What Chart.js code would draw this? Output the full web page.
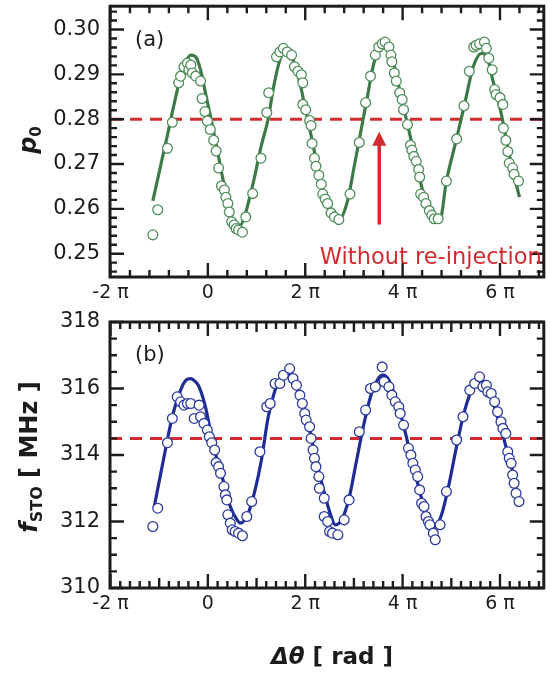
<!DOCTYPE html>
<html>
<head>
<meta charset="utf-8">
<script src="https://cdn.jsdelivr.net/npm/chart.js@4.4.0/dist/chart.umd.min.js"></script>
<style>
  html, body { margin: 0; padding: 0; background: #fff; }
  #wrap { position: relative; width: 550px; height: 678px; overflow: hidden; }
  canvas { position: absolute; left: 0; }
  #p0Chart { top: 0; }
  #fChart { top: 305px; }
</style>
</head>
<body>
<div id="wrap">
  <canvas id="p0Chart" width="550" height="305"></canvas>
  <canvas id="fChart" width="550" height="373"></canvas>
</div>
<script>
// phase axis, in units of pi
const xMin = -2.01;
const xMax = 6.9;
const xTickValues = [-2, 0, 2, 4, 6];
const xTickLabels = ['-2 π', '0', '2 π', '4 π', '6 π'];

const p0TickValues = [0.25, 0.26, 0.27, 0.28, 0.29, 0.30];
const p0TickLabels = ['0.25', '0.26', '0.27', '0.28', '0.29', '0.30'];
const fTickValues = [310, 312, 314, 316, 318];
const fTickLabels = ['310', '312', '314', '316', '318'];

// (a) measured p0
const p0PhaseX = [
  -1.13, -1.03, -0.83, -0.73, -0.60, -0.56, -0.49, -0.42, -0.39, -0.35,
  -0.32, -0.25, -0.15, -0.12, -0.06, -0.01, 0.05, 0.12, 0.17, 0.22,
  0.28, 0.34, 0.37, 0.41, 0.44, 0.49, 0.54, 0.58, 0.63, 0.71,
  0.78, 0.92, 1.09, 1.21, 1.25, 1.41, 1.48, 1.55, 1.63, 1.72,
  1.78, 1.85, 1.92, 1.95, 1.95, 2.01, 2.09, 2.12, 2.14, 2.19,
  2.22, 2.28, 2.33, 2.36, 2.41, 2.46, 2.53, 2.60, 2.69, 2.92,
  3.11, 3.24, 3.34, 3.44, 3.51, 3.58, 3.64, 3.72, 3.76, 3.78,
  3.83, 3.87, 3.94, 3.99, 4.02, 4.10, 4.16, 4.19, 4.23, 4.28,
  4.33, 4.35, 4.37, 4.43, 4.48, 4.55, 4.60, 4.65, 4.73, 4.90,
  5.11, 5.26, 5.37, 5.46, 5.51, 5.58, 5.68, 5.72, 5.77, 5.84,
  5.89, 5.92, 6.00, 6.06, 6.07, 6.12, 6.16, 6.19, 6.26, 6.29,
  6.38
];
const p0Measured = [
  0.2542, 0.2598, 0.2735, 0.2793, 0.2881, 0.2896, 0.2917, 0.2925, 0.2910, 0.2921,
  0.2903, 0.2896, 0.2885, 0.2846, 0.2817, 0.2796, 0.2777, 0.2753, 0.2729, 0.2691,
  0.2651, 0.2642, 0.2626, 0.2612, 0.2593, 0.2571, 0.2564, 0.2556, 0.2553, 0.2548,
  0.2582, 0.2634, 0.2713, 0.2815, 0.2859, 0.2939, 0.2950, 0.2958, 0.2950, 0.2943,
  0.2917, 0.2907, 0.2899, 0.2881, 0.2833, 0.2821, 0.2797, 0.2786, 0.2746, 0.2713,
  0.2695, 0.2675, 0.2655, 0.2633, 0.2622, 0.2612, 0.2591, 0.2582, 0.2576, 0.2633,
  0.2748, 0.2837, 0.2896, 0.2943, 0.2961, 0.2968, 0.2972, 0.2961, 0.2943, 0.2928,
  0.2903, 0.2885, 0.2859, 0.2844, 0.2821, 0.2788, 0.2742, 0.2731, 0.2717, 0.2706,
  0.2688, 0.2671, 0.2633, 0.2626, 0.2612, 0.2596, 0.2586, 0.2578, 0.2578, 0.2662,
  0.2756, 0.2830, 0.2907, 0.2961, 0.2965, 0.2968, 0.2972, 0.2958, 0.2936, 0.2910,
  0.2866, 0.2855, 0.2848, 0.2833, 0.2780, 0.2753, 0.2728, 0.2702, 0.2691, 0.2677,
  0.2662
];

// (a) fitted curve
const p0FitX = [
  -1.13, -0.86, -0.59, -0.45, -0.35, -0.25, -0.15, -0.05, 0.05, 0.16,
  0.29, 0.43, 0.56, 0.67, 0.77, 0.94, 1.10, 1.24, 1.34, 1.48,
  1.59, 1.75, 1.89, 1.99, 2.12, 2.26, 2.43, 2.57, 2.69, 2.87,
  3.00, 3.14, 3.28, 3.41, 3.55, 3.65, 3.78, 3.92, 4.09, 4.26,
  4.43, 4.60, 4.77, 4.90, 5.11, 5.28, 5.45, 5.62, 5.72, 5.85,
  6.02, 6.19, 6.40
];
const p0Fit = [
  0.2618, 0.2750, 0.2881, 0.2928, 0.2943, 0.2939, 0.2910, 0.2859, 0.2808, 0.2750,
  0.2677, 0.2604, 0.2567, 0.2564, 0.2589, 0.2662, 0.2742, 0.2801, 0.2866, 0.2932,
  0.2949, 0.2932, 0.2881, 0.2830, 0.2764, 0.2691, 0.2618, 0.2582, 0.2575, 0.2618,
  0.2691, 0.2772, 0.2852, 0.2925, 0.2958, 0.2961, 0.2939, 0.2874, 0.2793, 0.2713,
  0.2633, 0.2586, 0.2578, 0.2662, 0.2757, 0.2837, 0.2917, 0.2947, 0.2943, 0.2888,
  0.2815, 0.2721, 0.2626
];
const p0Reference = 0.28;

// (b) measured f_STO in MHz
const fPhaseX = [
  -1.13, -1.03, -0.83, -0.73, -0.63, -0.56, -0.49, -0.42, -0.35, -0.28,
  -0.18, -0.15, -0.08, -0.01, 0.03, 0.08, 0.14, 0.17, 0.22, 0.26,
  0.33, 0.36, 0.39, 0.41, 0.46, 0.50, 0.56, 0.63, 0.71, 0.80,
  0.90, 1.07, 1.21, 1.28, 1.38, 1.48, 1.55, 1.68, 1.75, 1.82,
  1.89, 1.94, 1.99, 2.02, 2.09, 2.12, 2.16, 2.19, 2.22, 2.28,
  2.29, 2.39, 2.39, 2.46, 2.50, 2.56, 2.67, 2.80, 2.90, 3.11,
  3.24, 3.34, 3.44, 3.58, 3.62, 3.72, 3.78, 3.85, 3.92, 3.95,
  4.02, 4.12, 4.17, 4.21, 4.26, 4.31, 4.35, 4.39, 4.44, 4.48,
  4.53, 4.56, 4.63, 4.67, 4.77, 4.90, 5.11, 5.24, 5.38, 5.48,
  5.58, 5.65, 5.72, 5.75, 5.82, 5.89, 5.95, 6.02, 6.06, 6.12,
  6.16, 6.19, 6.23, 6.26, 6.29, 6.33, 6.39
];
const fMeasured = [
  311.85, 312.40, 314.37, 315.10, 315.75, 315.60, 315.50, 315.55, 315.55, 315.10,
  315.50, 315.15, 314.95, 314.75, 314.55, 314.37, 314.15, 313.77, 313.65, 313.45,
  313.05, 312.80, 312.65, 312.20, 311.95, 311.75, 311.70, 311.65, 311.57, 312.15,
  312.60, 314.10, 315.45, 315.55, 316.15, 316.15, 316.40, 316.60, 316.30, 316.10,
  315.80, 315.55, 315.25, 315.05, 314.85, 314.50, 314.15, 313.90, 313.65, 313.35,
  313.00, 312.70, 312.15, 312.00, 311.70, 311.65, 311.60, 312.05, 312.65, 314.70,
  315.35, 316.00, 316.05, 316.65, 316.20, 316.05, 315.80, 315.60, 315.45, 315.25,
  314.90, 314.20, 314.00, 313.75, 313.55, 313.35, 312.95, 312.55, 312.45, 312.15,
  312.00, 311.90, 311.65, 311.45, 311.90, 312.90, 314.45, 315.15, 315.95, 316.15,
  316.35, 316.05, 316.10, 315.90, 315.85, 315.60, 315.30, 315.00, 314.80, 314.65,
  314.10, 313.90, 313.75, 313.40, 313.15, 312.85, 312.60
];

// (b) fitted curve
const fFitX = [
  -1.10, -0.86, -0.73, -0.56, -0.45, -0.35, -0.25, -0.18, -0.05, 0.05,
  0.19, 0.33, 0.46, 0.60, 0.67, 0.83, 0.97, 1.10, 1.24, 1.37,
  1.50, 1.62, 1.75, 1.90, 2.05, 2.20, 2.35, 2.50, 2.62, 2.75,
  2.90, 3.05, 3.20, 3.35, 3.50, 3.60, 3.72, 3.85, 4.00, 4.15,
  4.30, 4.45, 4.58, 4.66, 4.80, 4.95, 5.10, 5.25, 5.40, 5.50,
  5.60, 5.72, 5.85, 6.00, 6.15, 6.30
];
const fFit = [
  312.45, 314.25, 315.15, 315.95, 316.25, 316.30, 316.20, 316.05, 315.45, 314.75,
  313.85, 313.15, 312.45, 312.05, 311.95, 312.25, 312.95, 313.85, 315.15, 315.90,
  316.35, 316.45, 316.30, 315.75, 315.00, 314.00, 313.10, 312.30, 311.90, 312.05,
  312.70, 313.80, 314.90, 315.80, 316.30, 316.40, 316.25, 315.75, 315.00, 314.10,
  313.20, 312.40, 311.95, 311.85, 312.20, 313.10, 314.20, 315.20, 315.90, 316.15,
  316.25, 316.10, 315.60, 314.90, 314.10, 313.30
];
const fReference = 314.5;

// arrow and note in panel (a), in data units
const arrowX = 3.52;
const arrowFrom = 0.2565;
const arrowTo = 0.2772;
const noteX = 2.30;
const noteY = 0.2478;

const RED = '#d32a2e';
const INK = '#1c1c1c';
const FONT = '"DejaVu Sans", "Liberation Sans", Arial, sans-serif';

function pairs(xs, ys) {
  return xs.map((v, i) => ({ x: v, y: ys[i] }));
}

function labelFrom(values, labels) {
  return (v) => {
    const i = values.findIndex(t => Math.abs(t - v) < 1e-9);
    return i >= 0 ? labels[i] : '';
  };
}

function drawRich(ctx, parts, x, y, rotate) {
  ctx.save();
  ctx.translate(x, y);
  if (rotate) ctx.rotate(-Math.PI / 2);
  ctx.textBaseline = 'alphabetic';
  ctx.textAlign = 'left';
  let total = 0;
  parts.forEach(p => { ctx.font = p.font; total += ctx.measureText(p.text).width; });
  let cx = -total / 2;
  parts.forEach(p => {
    ctx.font = p.font;
    ctx.fillStyle = p.color || INK;
    ctx.fillText(p.text, cx, p.dy || 0);
    cx += ctx.measureText(p.text).width;
  });
  ctx.restore();
}

// inward tick marks on all four sides plus the frame
const frameTicks = {
  id: 'frameTicks',
  afterDatasetsDraw(chart, args, o) {
    const { ctx, chartArea: a } = chart;
    const x = chart.scales.x, y = chart.scales.y;
    const on = (v, step) => step && Math.abs(v / step - Math.round(v / step)) < 1e-6;
    ctx.save();
    ctx.strokeStyle = INK;
    ctx.lineWidth = 2.4;
    ctx.beginPath();
    for (let i = Math.ceil(x.min / o.xMinor - 1e-6); i * o.xMinor <= x.max + 1e-6; i++) {
      const v = i * o.xMinor;
      const len = on(v, o.xMajor) ? o.major : (on(v, o.xMid) ? o.mid : o.minor);
      const px = x.getPixelForValue(v);
      ctx.moveTo(px, a.bottom); ctx.lineTo(px, a.bottom - len);
      ctx.moveTo(px, a.top); ctx.lineTo(px, a.top + len);
    }
    for (let i = Math.ceil(y.min / o.yMinor - 1e-6); i * o.yMinor <= y.max + 1e-6; i++) {
      const v = i * o.yMinor;
      const len = on(v, o.yMajor) ? o.major : o.minor;
      const py = y.getPixelForValue(v);
      ctx.moveTo(a.left, py); ctx.lineTo(a.left + len, py);
      ctx.moveTo(a.right, py); ctx.lineTo(a.right - len, py);
    }
    ctx.stroke();
    ctx.lineWidth = 3;
    ctx.strokeRect(a.left, a.top, a.right - a.left, a.bottom - a.top);
    ctx.restore();
  }
};

// panel letters, axis titles, arrow and note
const marks = {
  id: 'marks',
  afterDraw(chart, args, o) {
    const { ctx, chartArea: a } = chart;
    const x = chart.scales.x, y = chart.scales.y;
    ctx.save();
    ctx.fillStyle = INK;
    ctx.font = '21px ' + FONT;
    ctx.textBaseline = 'middle';
    ctx.textAlign = 'left';
    ctx.fillText(o.panel, a.left + 25, a.top + 34);
    if (o.yTitle) drawRich(ctx, o.yTitle.parts, o.yTitle.x, o.yTitle.y, true);
    if (o.xTitle) drawRich(ctx, o.xTitle.parts, o.xTitle.x, o.xTitle.y, false);
    if (o.arrow) {
      const px = x.getPixelForValue(arrowX);
      const y0 = y.getPixelForValue(arrowFrom);
      const y1 = y.getPixelForValue(arrowTo);
      ctx.strokeStyle = RED;
      ctx.fillStyle = RED;
      ctx.lineWidth = 3.5;
      ctx.beginPath();
      ctx.moveTo(px, y0);
      ctx.lineTo(px, y1 + 10);
      ctx.stroke();
      ctx.beginPath();
      ctx.moveTo(px, y1);
      ctx.lineTo(px - 7, y1 + 14);
      ctx.lineTo(px + 7, y1 + 14);
      ctx.closePath();
      ctx.fill();
      ctx.font = '22.5px ' + FONT;
      ctx.textBaseline = 'alphabetic';
      ctx.fillText('Without re-injection', x.getPixelForValue(noteX), y.getPixelForValue(noteY));
    }
    ctx.restore();
  }
};

function panelOptions(cfg) {
  return {
    responsive: false,
    animation: false,
    devicePixelRatio: 1,
    layout: { padding: { left: 0, right: 2, top: cfg.top, bottom: 0 } },
    plugins: {
      legend: { display: false },
      tooltip: { enabled: false },
      frameTicks: cfg.ticks,
      marks: cfg.marks
    },
    scales: {
      x: {
        type: 'linear',
        min: xMin,
        max: xMax,
        grid: { display: false, drawTicks: false },
        border: { display: false },
        afterBuildTicks: (s) => { s.ticks = xTickValues.map(v => ({ value: v })); },
        afterFit: (s) => { s.height = cfg.xHeight; s.paddingLeft = 0; s.paddingRight = 0; },
        ticks: {
          autoSkip: false,
          maxRotation: 0,
          padding: 5,
          color: INK,
          font: { family: FONT, size: 19 },
          callback: labelFrom(xTickValues, xTickLabels)
        }
      },
      y: {
        type: 'linear',
        min: cfg.yMin,
        max: cfg.yMax,
        grid: { display: false, drawTicks: false },
        border: { display: false },
        afterBuildTicks: (s) => { s.ticks = cfg.yTicks.map(v => ({ value: v })); },
        afterFit: (s) => { s.width = 110; s.paddingTop = 0; s.paddingBottom = 0; },
        ticks: {
          autoSkip: false,
          padding: 10,
          color: INK,
          font: { family: FONT, size: 21 },
          callback: labelFrom(cfg.yTicks, cfg.yLabels)
        }
      }
    }
  };
}

function panelData(px, py, fx, fy, ref, dot, line) {
  return {
    datasets: [
      {
        type: 'scatter',
        data: pairs(px, py),
        pointRadius: 4.9,
        pointBorderWidth: 1.3,
        pointBorderColor: dot,
        pointBackgroundColor: '#ffffff',
        order: 0
      },
      {
        type: 'line',
        data: pairs(fx, fy),
        borderColor: line,
        borderWidth: 3.2,
        pointRadius: 0,
        cubicInterpolationMode: 'monotone',
        order: 1
      },
      {
        type: 'line',
        data: [{ x: xMin, y: ref }, { x: xMax, y: ref }],
        borderColor: RED,
        borderWidth: 3,
        borderDash: [12, 8],
        pointRadius: 0,
        order: 2
      }
    ]
  };
}

new Chart(document.getElementById('p0Chart'), {
  type: 'scatter',
  data: panelData(p0PhaseX, p0Measured, p0FitX, p0Fit, p0Reference, '#4f8d5a', '#3d7a48'),
  options: panelOptions({
    top: 5,
    xHeight: 28,
    yMin: 0.2448,
    yMax: 0.3052,
    yTicks: p0TickValues,
    yLabels: p0TickLabels,
    ticks: { xMinor: 0.4, xMid: 0, xMajor: 2, yMinor: 0.002, yMajor: 0.01, major: 14, mid: 10, minor: 7 },
    marks: {
      panel: '(a)',
      arrow: true,
      yTitle: {
        x: 36, y: 140,
        parts: [
          { text: 'p', font: 'italic bold 24px ' + FONT },
          { text: '0', font: 'bold 15px ' + FONT, dy: 5 }
        ]
      }
    }
  }),
  plugins: [frameTicks, marks]
});

new Chart(document.getElementById('fChart'), {
  type: 'scatter',
  data: panelData(fPhaseX, fMeasured, fFitX, fFit, fReference, '#2c3a9e', '#1f2c94'),
  options: panelOptions({
    top: 17,
    xHeight: 90,
    yMin: 310,
    yMax: 318,
    yTicks: fTickValues,
    yLabels: fTickLabels,
    ticks: { xMinor: 0.2, xMid: 1, xMajor: 2, yMinor: 0.5, yMajor: 2, major: 14, mid: 10, minor: 7 },
    marks: {
      panel: '(b)',
      yTitle: {
        x: 37, y: 152,
        parts: [
          { text: 'f', font: 'italic bold 24px ' + FONT },
          { text: 'STO', font: 'bold 16px ' + FONT, dy: 5 },
          { text: ' [ MHz ]', font: 'bold 24px ' + FONT }
        ]
      },
      xTitle: {
        x: 332, y: 359,
        parts: [
          { text: 'Δθ', font: 'italic bold 23px ' + FONT },
          { text: ' [ rad ]', font: 'bold 23px ' + FONT }
        ]
      }
    }
  }),
  plugins: [frameTicks, marks]
});
</script>
</body>
</html>
